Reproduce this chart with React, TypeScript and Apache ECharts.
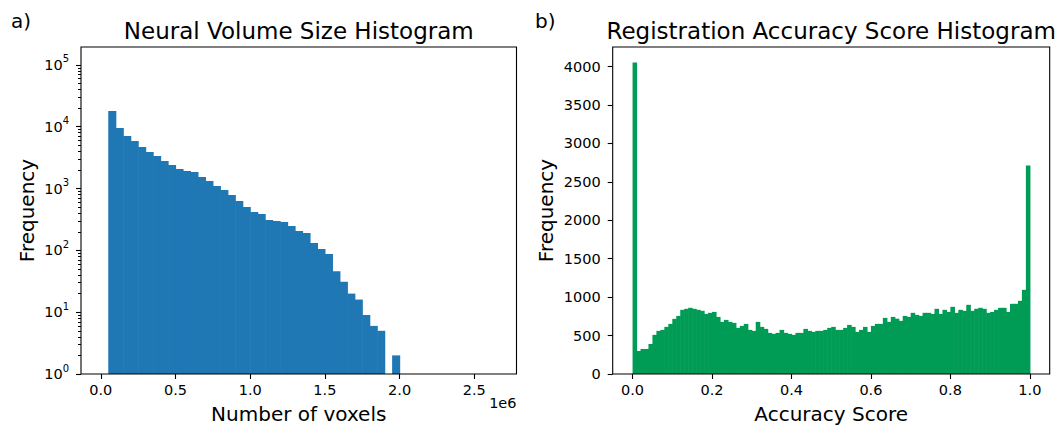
import React, { useEffect, useRef } from "react";
import * as echarts from "echarts";

const FONT = "DejaVu Sans";
const INK = "#000000";
const BLUE = "#1f77b4";
const GREEN = "#009b55";

// Neural volume sizes: equal-width bins starting at 0 voxels
const volumeBinStart = 0;
const volumeBinWidth = 50000;
const volumeCounts = [
  1, 18000, 9550, 7100, 5890, 4710, 3910, 3370, 2800, 2410,
  2080, 1930, 1860, 1540, 1330, 1100, 950, 790, 630, 504,
  418, 388, 310, 299, 288, 248, 206, 191, 132, 105,
  87, 46, 31, 20, 16, 9, 6, 5, 0, 2,
  0, 0, 0, 0, 0, 0, 0, 0, 0, 0,
  0, 0, 1,
];

// Registration accuracy scores: 100 equal-width bins over [0, 1]
const scoreBinStart = 0;
const scoreBinWidth = 0.01;
const scoreCounts = [
  4052, 300, 326, 326, 391, 509, 561, 574, 613, 652,
  717, 756, 835, 848, 861, 848, 835, 822, 782, 796,
  808, 743, 678, 704, 678, 665, 600, 626, 652, 574,
  561, 678, 613, 587, 535, 522, 535, 574, 535, 522,
  509, 535, 535, 587, 561, 548, 561, 561, 574, 600,
  613, 574, 574, 600, 639, 613, 548, 574, 613, 548,
  626, 652, 652, 730, 678, 743, 720, 691, 756, 743,
  796, 769, 756, 796, 796, 782, 848, 782, 835, 808,
  874, 796, 835, 822, 900, 822, 848, 861, 848, 796,
  808, 835, 861, 861, 808, 913, 913, 952, 1095, 2712,
];

// Tick positions
const volumeTicks = [0, 500000, 1000000, 1500000, 2000000, 2500000];
const scoreTicks = [0, 0.2, 0.4, 0.6, 0.8, 1.0];
const frequencyTicks = [0, 500, 1000, 1500, 2000, 2500, 3000, 3500, 4000];
const logMajorTicks = [1, 10, 100, 1000, 10000, 100000];

const LOG_TOP = Math.pow(10, 5.29);
const minorLogTicks: number[] = [];
logMajorTicks.forEach((decade) => {
  for (let m = 2; m <= 9; m++) {
    const v = decade * m;
    if (v <= LOG_TOP) minorLogTicks.push(v);
  }
});

const toBins = (start: number, width: number, counts: number[]) =>
  counts.map((c, i) => [start + i * width, start + (i + 1) * width, c]);

const volumeLo = volumeBinStart;
const volumeHi = volumeBinStart + volumeCounts.length * volumeBinWidth;
const volumePad = 0.05 * (volumeHi - volumeLo);
const scoreLo = scoreBinStart;
const scoreHi = scoreBinStart + scoreCounts.length * scoreBinWidth;
const scorePad = 0.05 * (scoreHi - scoreLo);
const frequencyTop = 1.05 * Math.max(...scoreCounts);

const TICK_FONT = 14.5;
const LABEL_FONT = 20;
const TITLE_FONT = 23;
const LINE_W = 1.1;

// Plot frames (drawn by the grid border, on top of the bars)
const frame = {
  show: true,
  z: 5,
  borderColor: INK,
  borderWidth: LINE_W,
  backgroundColor: "transparent",
  containLabel: false,
};
const GRID_A = { left: 81, top: 47, width: 435.5, height: 327 };
const GRID_B = { left: 612.7, top: 47, width: 437, height: 327 };

const tickLine = { color: INK, width: LINE_W };

const tickLabel = {
  color: INK,
  fontFamily: FONT,
  fontSize: TICK_FONT,
};

const histRender = (base: number, color: string) => (params: any, api: any) => {
  const x0 = api.value(0);
  const x1 = api.value(1);
  const c = api.value(2);
  if (!(c > base)) return null;
  const top = api.coord([x0, c]);
  const bot = api.coord([x1, base]);
  // a slight overlap on the right edge closes anti-aliasing seams between bins
  return {
    type: "rect",
    shape: { x: top[0], y: top[1], width: bot[0] - top[0] + 0.6, height: bot[1] - top[1] },
    style: { fill: color },
  };
};

const textEl = (
  text: string,
  x: number,
  y: number,
  size: number,
  align: string,
  rotation = 0
) => ({
  type: "text",
  x,
  y,
  rotation,
  z: 10,
  style: {
    text,
    fill: INK,
    font: `${size}px "${FONT}"`,
    align,
    verticalAlign: "middle",
  },
});

const centerA = GRID_A.left + GRID_A.width / 2;
const centerB = GRID_B.left + GRID_B.width / 2;
const middleY = GRID_A.top + GRID_A.height / 2;

const option = {
  animation: false,
  backgroundColor: "#ffffff",
  grid: [
    { ...GRID_A, ...frame },
    { ...GRID_B, ...frame },
  ],
  xAxis: [
    {
      type: "value",
      gridIndex: 0,
      position: "bottom",
      min: volumeLo - volumePad,
      max: volumeHi + volumePad,
      axisLine: { show: false, onZero: false },
      axisTick: { show: true, length: 5, lineStyle: tickLine, customValues: volumeTicks },
      axisLabel: {
        ...tickLabel,
        margin: 8,
        customValues: volumeTicks,
        formatter: (v: number) => (v / 1e6).toFixed(1),
      },
      splitLine: { show: false },
    },
    {
      type: "value",
      gridIndex: 1,
      position: "bottom",
      min: scoreLo - scorePad,
      max: scoreHi + scorePad,
      axisLine: { show: false, onZero: false },
      axisTick: { show: true, length: 5, lineStyle: tickLine, customValues: scoreTicks },
      axisLabel: {
        ...tickLabel,
        margin: 8,
        customValues: scoreTicks,
        formatter: (v: number) => v.toFixed(1),
      },
      splitLine: { show: false },
    },
  ],
  yAxis: [
    {
      type: "log",
      logBase: 10,
      gridIndex: 0,
      position: "left",
      min: 1,
      max: LOG_TOP,
      axisLine: { show: false, onZero: false },
      axisTick: { show: true, length: 5, lineStyle: tickLine, customValues: logMajorTicks },
      axisLabel: {
        margin: 12,
        customValues: logMajorTicks,
        formatter: (v: number) => `{b|10}{s|${Math.round(Math.log10(v))}}`,
        rich: {
          b: { ...tickLabel, lineHeight: 22 },
          s: { color: INK, fontFamily: FONT, fontSize: 10, lineHeight: 12, verticalAlign: "top" },
        },
      },
      splitLine: { show: false },
    },
    {
      type: "log",
      logBase: 10,
      gridIndex: 0,
      position: "left",
      min: 1,
      max: LOG_TOP,
      axisLine: { show: false, onZero: false },
      axisTick: {
        show: true,
        length: 3,
        lineStyle: { color: INK, width: 1 },
        customValues: minorLogTicks,
      },
      axisLabel: { show: false },
      splitLine: { show: false },
    },
    {
      type: "value",
      gridIndex: 1,
      position: "left",
      min: 0,
      max: frequencyTop,
      axisLine: { show: false, onZero: false },
      axisTick: { show: true, length: 5, lineStyle: tickLine, customValues: frequencyTicks },
      axisLabel: {
        ...tickLabel,
        margin: 12,
        customValues: frequencyTicks,
        formatter: (v: number) => String(v),
      },
      splitLine: { show: false },
    },
  ],
  series: [
    {
      type: "custom",
      name: "Neural volume size",
      xAxisIndex: 0,
      yAxisIndex: 0,
      encode: { x: [0, 1], y: 2 },
      renderItem: histRender(1, BLUE),
      data: toBins(volumeBinStart, volumeBinWidth, volumeCounts),
      z: 2,
    },
    {
      type: "custom",
      name: "Registration accuracy score",
      xAxisIndex: 1,
      yAxisIndex: 2,
      encode: { x: [0, 1], y: 2 },
      renderItem: histRender(0, GREEN),
      data: toBins(scoreBinStart, scoreBinWidth, scoreCounts),
      z: 2,
    },
  ],
  graphic: [
    textEl("a)", 11, 21, 20, "left"),
    textEl("b)", 535, 21, 20, "left"),
    textEl("Neural Volume Size Histogram", centerA, 31, TITLE_FONT, "center"),
    textEl("Registration Accuracy Score Histogram", centerB, 31, TITLE_FONT, "center"),
    textEl("Number of voxels", centerA, 414, LABEL_FONT, "center"),
    textEl("Accuracy Score", centerB, 414, LABEL_FONT, "center"),
    textEl("Frequency", 27, middleY, LABEL_FONT, "center", Math.PI / 2),
    textEl("Frequency", 546, middleY, LABEL_FONT, "center", Math.PI / 2),
    textEl("1e6", GRID_A.left + GRID_A.width, 403, TICK_FONT, "right"),
  ],
};

export default function App() {
  const ref = useRef<HTMLDivElement>(null);
  useEffect(() => {
    const chart = echarts.init(ref.current!, null, { renderer: "svg" });
    chart.setOption(option as any);
    return () => chart.dispose();
  }, []);
  return (
    <div
      ref={ref}
      style={{ position: "absolute", left: 0, top: 0, width: 1061, height: 428, background: "#fff" }}
    />
  );
}
